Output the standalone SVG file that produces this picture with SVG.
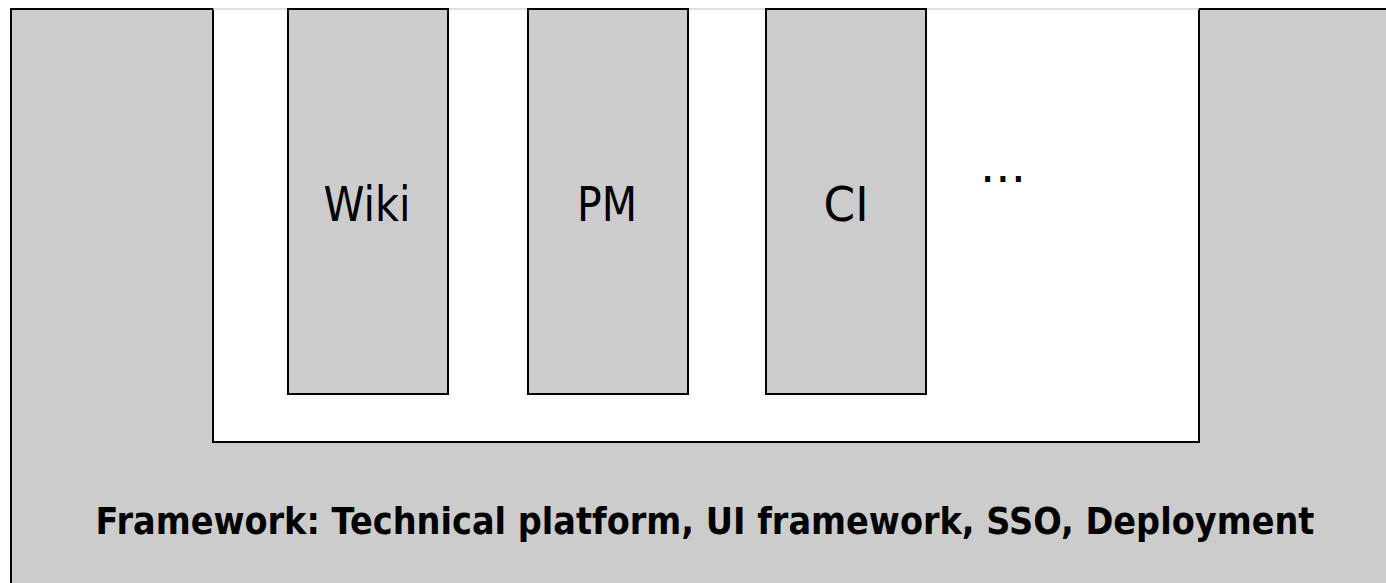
<svg xmlns="http://www.w3.org/2000/svg" width="1386" height="583" viewBox="0 0 1386 583">
  <style>
    .box { fill: #cccccc; stroke: #000000; stroke-width: 2; }
    .lbl { font-family: "DejaVu Sans", Verdana, sans-serif; font-size: 48px; fill: #000000; text-anchor: middle; }
    .fw { font-family: "DejaVu Sans", Verdana, sans-serif; font-size: 38px; font-weight: bold; fill: #000000; text-anchor: middle; }
  </style>
  <rect x="0" y="0" width="1386" height="583" fill="#ffffff"/>
  <g id="framework">
    <path class="box" d="M11,600 V9 H213 V442 H1199 V9 H1400 V600 Z"/>
    <line x1="213" y1="9" x2="1199" y2="9" stroke="#d4d4d4" stroke-width="1.5"/>
    <text class="fw" transform="translate(705 534) scale(0.884 1)" x="0" y="0">Framework: Technical platform, UI framework, SSO, Deployment</text>
  </g>
  <g id="wiki">
    <rect class="box" x="288" y="9" width="160" height="385"/>
    <text class="lbl" x="367" y="221" textLength="87" lengthAdjust="spacingAndGlyphs">Wiki</text>
  </g>
  <g id="pm">
    <rect class="box" x="528" y="9" width="160" height="385"/>
    <text class="lbl" x="607" y="221" textLength="60" lengthAdjust="spacingAndGlyphs">PM</text>
  </g>
  <g id="ci">
    <rect class="box" x="766" y="9" width="160" height="385"/>
    <text class="lbl" x="846" y="221" textLength="45" lengthAdjust="spacingAndGlyphs">CI</text>
  </g>
  <g id="more">
    <text class="lbl" x="1003" y="182">...</text>
  </g>
  <g id="connectors"/>
</svg>
